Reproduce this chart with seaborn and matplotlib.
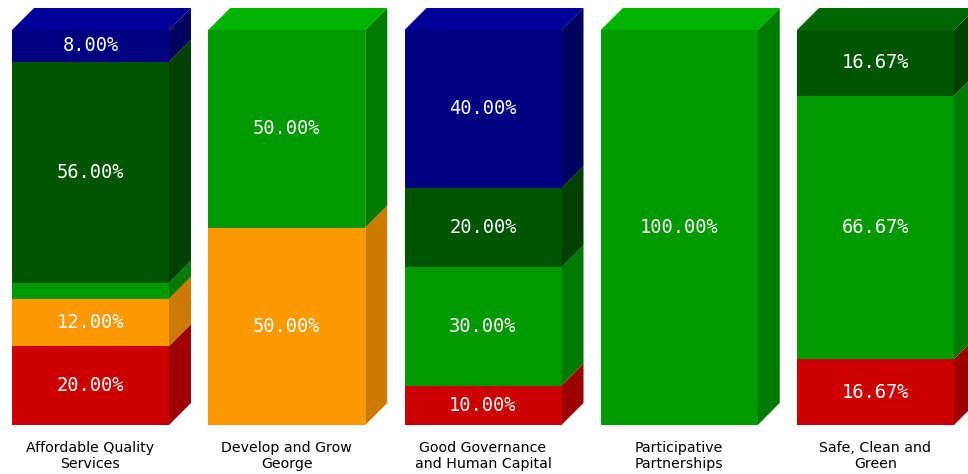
import matplotlib
matplotlib.use("Agg")
import matplotlib.pyplot as plt
from matplotlib.patches import Polygon
import numpy as np
import pandas as pd
import seaborn as sns

# Share of targets per strategic objective, in percent (stacked bottom to top)
categories = [
    "Affordable Quality\nServices",
    "Develop and Grow\nGeorge",
    "Good Governance\nand Human Capital",
    "Participative\nPartnerships",
    "Safe, Clean and\nGreen",
]
red_share = [20.00, 0.0, 10.00, 0.0, 16.67]
orange_share = [12.00, 50.00, 0.0, 0.0, 0.0]
green_share = [4.00, 50.00, 30.00, 100.00, 66.67]
dark_green_share = [56.00, 0.0, 20.00, 0.0, 16.67]
navy_share = [8.00, 0.0, 40.00, 0.0, 0.0]

layers = [red_share, orange_share, green_share, dark_green_share, navy_share]
front_colors = ["#cc0000", "#ff9900", "#009900", "#005500", "#000080"]
side_colors = ["#9e0000", "#cc7a00", "#007a00", "#004000", "#000060"]
top_colors = ["#e00000", "#ffad33", "#00b300", "#006600", "#000099"]

sns.set_theme(style="white")
plt.rcParams["font.family"] = ["DejaVu Sans"]

fig = plt.figure(figsize=(9.68, 4.74), dpi=100)
ax = fig.add_axes([0, 0, 1, 1])

bar_w = 0.8
px_x = 196.25          # pixels per category step
px_y = 3.95            # pixels per percent
dx = 22 / px_x         # depth offset of the 3D faces
dy = 22 / px_y

values = np.array(layers)
cum = np.cumsum(values, axis=0)

# Front faces: cumulative heights drawn from the tallest down
for k in range(len(layers) - 1, -1, -1):
    df = pd.DataFrame({"objective": categories, "height": cum[k]})
    sns.barplot(data=df, x="objective", y="height", color=front_colors[k],
                saturation=1, width=bar_w, linewidth=0, ax=ax, zorder=2)

# Side faces and top faces for the 3D look
for i in range(len(categories)):
    xr = i + bar_w / 2
    xl = i - bar_w / 2
    bottom = 0.0
    top_k = 0
    for k in range(len(layers)):
        v = values[k, i]
        if v <= 0:
            continue
        y0, y1 = bottom, bottom + v
        ax.add_patch(Polygon([(xr, y0), (xr + dx, y0 + dy), (xr + dx, y1 + dy), (xr, y1)],
                             closed=True, facecolor=side_colors[k], edgecolor="none", zorder=1))
        bottom = y1
        top_k = k
    ax.add_patch(Polygon([(xl, bottom), (xl + dx, bottom + dy), (xr + dx, bottom + dy), (xr, bottom)],
                         closed=True, facecolor=top_colors[top_k], edgecolor="none", zorder=1))

# Value labels on each segment
for i in range(len(categories)):
    bottom = 0.0
    for k in range(len(layers)):
        v = values[k, i]
        if v >= 5:
            ax.text(i, bottom + v / 2, f"{v:.2f}%", ha="center", va="center",
                    color="white", fontsize=13.5, family="DejaVu Sans Mono", zorder=5)
        bottom += v

# Category names under the bars
for i, name in enumerate(categories):
    ax.text(i, -4.0, name, ha="center", va="top", fontsize=10.2,
            color="black", linespacing=1.2)

ax.set_xlim(-90.5 / px_x, (968 - 90.5) / px_x)
ax.set_ylim(-49 / px_y, 425 / px_y)
ax.axis("off")

fig.savefig("out.png", dpi=100, facecolor="white")
